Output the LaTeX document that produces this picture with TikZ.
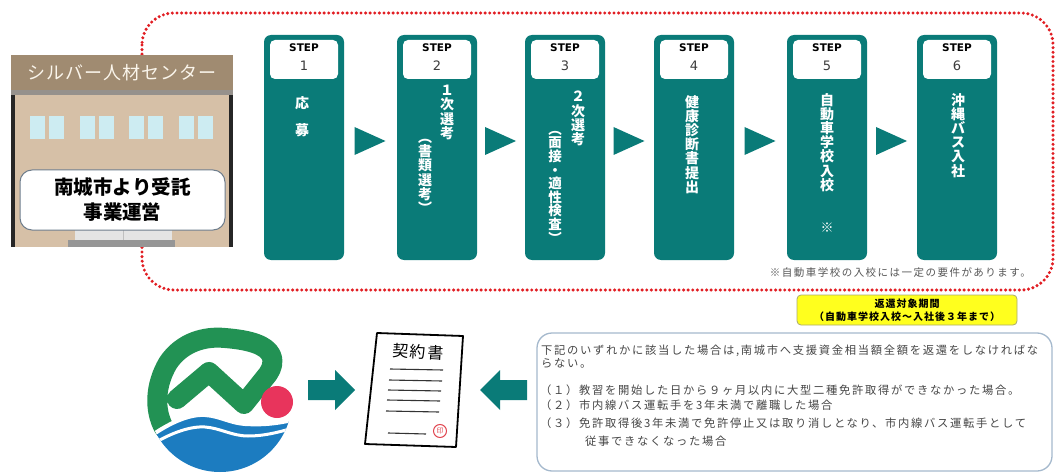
\documentclass[tikz,border=0pt]{standalone}
\usepackage{fontspec}
\usetikzlibrary{calc}
\setmainfont{Noto Sans CJK JP}
\newfontfamily\jp{Noto Sans CJK JP}
\newfontfamily\jpbody[LetterSpace=15]{Noto Sans CJK JP}
\newfontfamily\jpnote[LetterSpace=14]{Noto Sans CJK JP}
\newfontfamily\jpwide[LetterSpace=10]{Noto Sans CJK JP}
\newfontfamily\jproof[LetterSpace=5]{Noto Sans CJK JP}
\newfontfamily\stepfont{DejaVu Sans}
\newcommand\fs[2]{\fontsize{#1}{#2}\selectfont}

\definecolor{stepteal}{RGB}{10,123,120}
\definecolor{dotred}{RGB}{225,30,35}
\definecolor{roofc}{RGB}{160,139,113}
\definecolor{wallc}{RGB}{214,192,167}
\definecolor{bandc}{RGB}{150,145,140}
\definecolor{winc}{RGB}{205,236,242}
\definecolor{doorc}{RGB}{228,228,228}
\definecolor{doorstep}{RGB}{150,150,150}
\definecolor{signline}{RGB}{110,125,140}
\definecolor{numgray}{RGB}{60,60,60}
\definecolor{notegray}{RGB}{85,85,85}
\definecolor{yellowc}{RGB}{255,255,30}
\definecolor{yellowline}{RGB}{170,170,110}
\definecolor{condline}{RGB}{165,185,205}
\definecolor{condtext}{RGB}{70,70,70}
\definecolor{logogreen}{RGB}{34,146,84}
\definecolor{logoblue}{RGB}{28,124,192}
\definecolor{logopink}{RGB}{232,52,92}
\definecolor{stampred}{RGB}{225,70,80}

\begin{document}
\begin{tikzpicture}[x=1pt,y=-1pt,
  reddot/.style={draw=dotred, line width=3.4pt, line cap=round, dash pattern=on 0pt off 4.6pt},
  stepbox/.style={fill=stepteal, rounded corners=7pt, minimum width=80pt, minimum height=225pt, inner sep=0pt},
  labelbox/.style={fill=white, rounded corners=5pt, minimum width=68pt, minimum height=39pt, inner sep=0pt},
  steptitle/.style={font=\stepfont\bfseries\fs{10.5}{12}, inner sep=0pt},
  stepnum/.style={font=\stepfont\fs{13}{14}, text=numgray, inner sep=0pt},
  vt/.style={text=white, align=center, inner sep=0pt, anchor=north, font=\jp\bfseries\fs{14}{14.2}},
  rooftext/.style={text={rgb,255:red,250;green,245;blue,235}, font=\jproof\fs{18}{20}, inner sep=0pt},
  signbox/.style={draw=signline, line width=1pt, fill=white, rounded corners=12pt, minimum width=205pt, minimum height=60pt, align=center, font=\jp\bfseries\fs{19.5}{25}, inner sep=0pt},
  notetext/.style={text=notegray, font=\jpnote\fs{10.5}{12}, inner sep=0pt},
  periodbox/.style={draw=yellowline, line width=0.8pt, fill=yellowc, rounded corners=4pt, minimum width=220pt, minimum height=30pt, align=center, font=\jpwide\bfseries\fs{10}{13.5}, inner sep=0pt},
  condbox/.style={draw=condline, line width=1.3pt, fill=white, rounded corners=15pt, minimum width=515pt, minimum height=138pt, inner sep=0pt},
  condline/.style={text=condtext, font=\jpbody\fs{11.3}{13}, inner sep=0pt, anchor=west},
  blockarrow/.style={fill=stepteal},
]
\useasboundingbox (0,0) rectangle (1057,473);

% dotted frame round the six steps
\draw[reddot, rounded corners=32pt] (142,13) rectangle (1053,290);

% the Silver Human Resources Center building
\fill[wallc] (11,90) rectangle (233,247);
\fill[roofc] (11,55) rectangle (233,90);
\fill[bandc] (11,90) rectangle (233,95);
\fill[black!85] (11,95) rectangle (15,247);
\fill[black!85] (229,95) rectangle (233,247);
\node[rooftext] (roof) at (122,73) {シルバー人材センター};
\foreach \wx in {30,80,129,179}{
  \fill[winc] (\wx,116) rectangle ++(15,23);
  \fill[winc] (\wx+19,116) rectangle ++(15,23);
}
\fill[doorc] (75,230) rectangle (172,240);
\draw[black!25, line width=0.8pt] (123.5,230) -- (123.5,240);
\fill[doorstep] (68,240) rectangle (175,247);
\node[signbox] (sign) at (122.5,200) {南城市より受託\\事業運営};

% step columns
\foreach \i/\x in {1/304,2/437,3/565,4/694,5/827,6/957}{
  \node[stepbox] (s\i) at (\x,147.5) {};
  \node[labelbox] (l\i) at (\x,59.5) {};
  \node[steptitle] (st\i) at (\x,48) {STEP};
  \node[stepnum] (n\i) at (\x,65.5) {\i};
}
% triangles between the steps
\foreach \a/\b in {1/2,2/3,3/4,4/5,5/6}{
  \coordinate (m\a) at ($(s\a.east)!0.5!(s\b.west)$);
  \fill[stepteal] ($(m\a)+(-16,-20.5)$) -- ($(m\a)+(15,-6.5)$) -- ($(m\a)+(-16,7.5)$) -- cycle;
}

% vertical step texts
\node[vt] (v1) at (302,96) {応\\[13pt]募};
\node[vt] (v2a) at (447,85) {１\\次\\選\\考};
\node[vt] (v2b) at (425,139) {︵\\書\\類\\選\\考\\︶};
\node[vt] (v3a) at (578,91) {２\\次\\選\\考};
\node[vt, font=\jp\bfseries\fs{13.5}{13.6}] (v3b) at (555,131) {︵\\面\\接\\・\\適\\性\\検\\査\\︶};
\node[vt] (v4) at (692,95) {健\\康\\診\\断\\書\\提\\出};
\node[vt] (v5) at (827,93) {自\\動\\車\\学\\校\\入\\校};
\node[vt, anchor=center, font=\jp\fs{13}{14}] (v5n) at (827,228) {※};
\node[vt] (v6) at (958,93) {沖\\縄\\バ\\ス\\入\\社};

\node[notetext, anchor=east] (note) at (1031,273) {※自動車学校の入校には一定の要件があります。};
\node[periodbox] (period) at (907,310) {返還対象期間\\（自動車学校入校～入社後３年まで）};

% Nanjo city emblem
\draw[logogreen, line width=20pt, line cap=round, line join=round]
  (164,428) .. controls (154,410) and (155,385) .. (168,363)
  .. controls (182,342) and (205,336) .. (225,338)
  .. controls (250,340) and (266,345) .. (271,355)
  .. controls (274,362) and (272,368) .. (268,374)
  -- (244,404) -- (209,372) -- (177,399);
\begin{scope}
  \clip (220,400) circle (72);
  \fill[logoblue, draw=white, line width=4pt]
    (140,444) .. controls (168,422) and (190,414) .. (205,415)
    .. controls (220,416) and (230,423) .. (245,424)
    .. controls (262,425) and (278,424) .. (300,418)
    -- (300,480) -- (140,480) -- cycle;
  \draw[white, line width=3pt]
    (140,452) .. controls (168,433) and (190,426) .. (205,427)
    .. controls (220,428) and (232,436) .. (248,436)
    .. controls (265,436) and (280,432) .. (300,426);
\end{scope}
\fill[logopink] (277,402) circle (16);

% arrows towards the contract
\coordinate (ar) at (331,390);
\fill[blockarrow] ($(ar)+(-23,-10)$) -- ($(ar)+(4,-10)$) -- ($(ar)+(4,-20)$) -- ($(ar)+(24,0)$)
  -- ($(ar)+(4,20)$) -- ($(ar)+(4,10)$) -- ($(ar)+(-23,10)$) -- cycle;
\coordinate (al) at (504,390);
\fill[blockarrow] ($(al)+(23,-10)$) -- ($(al)+(-4,-10)$) -- ($(al)+(-4,-20)$) -- ($(al)+(-24,0)$)
  -- ($(al)+(-4,20)$) -- ($(al)+(-4,10)$) -- ($(al)+(23,10)$) -- cycle;

% contract sheet
\draw[black, line width=1.8pt, fill=white, line join=round] (377,333) -- (463,336) -- (456,447) -- (365,444) -- cycle;
\node[font=\jpwide\fs{16}{18}, rotate=-3, inner sep=0pt] (doctitle) at (418,352) {契約書};
\foreach \ly/\lx in {369/390,380/389,390/388,400/387,411/386}{
  \draw[black!80, line width=1.1pt] (\lx,\ly) -- (\lx+53,\ly+1);
}
\draw[black!80, line width=1.1pt] (388,433) -- (426,434);
\draw[stampred, line width=1pt] (440,431) circle (6.5);
\node[text=stampred, font=\jp\fs{7}{8}, inner sep=0pt] (stamp) at (440,431) {印};

% repayment conditions
\node[condbox] (cond) at (794.5,402) {};
\node[condline] (t1) at (541,351) {下記のいずれかに該当した場合は,南城市へ支援資金相当額全額を返還をしなければな};
\node[condline] (t2) at (541,363) {らない。};
\node[condline] (t3) at (540,390) {（１）教習を開始した日から９ヶ月以内に大型二種免許取得ができなかった場合。};
\node[condline] (t4) at (540,405) {（２）市内線バス運転手を3年未満で離職した場合};
\node[condline] (t5) at (540,423) {（３）免許取得後3年未満で免許停止又は取り消しとなり、市内線バス運転手として};
\node[condline] (t6) at (585,441) {従事できなくなった場合};
\end{tikzpicture}
\end{document}
